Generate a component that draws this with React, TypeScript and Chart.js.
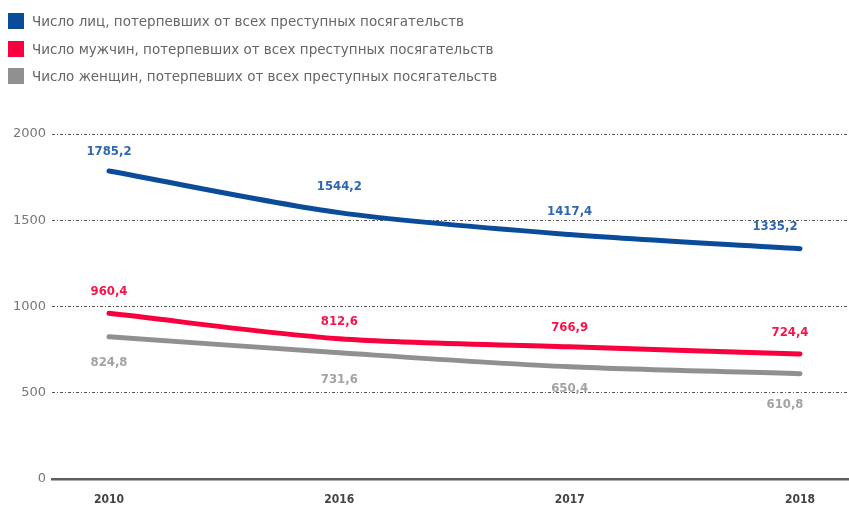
import React, { useEffect, useRef } from "react";
import { Chart, registerables } from "chart.js";

Chart.register(...registerables);

const years = ["2010", "2016", "2017", "2018"];
const totalVictims = [1785.2, 1544.2, 1417.4, 1335.2];
const maleVictims = [960.4, 812.6, 766.9, 724.4];
const femaleVictims = [824.8, 731.6, 650.4, 610.8];
const yTicks = [0, 500, 1000, 1500, 2000];
const seriesNames = [
  "Число лиц, потерпевших от всех преступных посягательств",
  "Число мужчин, потерпевших от всех преступных посягательств",
  "Число женщин, потерпевших от всех преступных посягательств",
];

const lineColors = ["#0b4c9a", "#f8003e", "#909092"];
const labelColors = ["#2f67b1", "#f5154c", "#a3a3a5"];
// label offsets (style only): vertical per point, horizontal shift of last label
const labelDy = [
  [-19, -26, -23, -22],
  [-22, -17, -19, -21],
  [26, 27, 22, 31],
];
const lastDx = [-25, -10, -15];

const fmt = (v: number) => v.toFixed(1).replace(".", ",");

const valueLabels = {
  id: "valueLabels",
  afterDatasetsDraw(chart: any) {
    const ctx = chart.ctx;
    ctx.save();
    ctx.font = "bold 13px 'DejaVu Sans Condensed', 'DejaVu Sans', sans-serif";
    ctx.textAlign = "center";
    ctx.textBaseline = "middle";
    chart.data.datasets.forEach((ds: any, di: number) => {
      const meta = chart.getDatasetMeta(di);
      ctx.fillStyle = labelColors[di];
      meta.data.forEach((pt: any, i: number) => {
        const v = ds.data[i].y;
        const dx = i === meta.data.length - 1 ? lastDx[di] : 0;
        ctx.fillText(fmt(v), pt.x + dx, pt.y + labelDy[di][i]);
      });
    });
    ctx.restore();
  },
};

export default function App() {
  const canvasRef = useRef<HTMLCanvasElement | null>(null);

  useEffect(() => {
    document.body.style.margin = "0";
    if (!canvasRef.current) return;
    const series = [totalVictims, maleVictims, femaleVictims];
    const chart = new Chart(canvasRef.current, {
      type: "line",
      data: {
        datasets: series.map((vals, di) => ({
          label: seriesNames[di],
          data: vals.map((v, i) => ({ x: i, y: v })),
          borderColor: lineColors[di],
          backgroundColor: lineColors[di],
          borderWidth: 5,
          borderCapStyle: "round" as const,
          pointRadius: 0,
          pointHoverRadius: 0,
          tension: 0.3,
          fill: false,
        })),
      },
      options: {
        responsive: false,
        animation: false,
        maintainAspectRatio: false,
        layout: { padding: { top: 134, left: 0, right: 0, bottom: 0 } },
        plugins: {
          legend: { display: false },
          tooltip: { enabled: false },
        },
        scales: {
          x: {
            type: "linear",
            min: -0.2475,
            max: 3.2128,
            afterBuildTicks: (scale: any) => {
              scale.ticks = years.map((_, i) => ({ value: i }));
            },
            afterFit: (scale: any) => {
              scale.height = 29;
            },
            grid: { display: false, drawTicks: false },
            border: { display: true, color: "#5f5f5f", width: 2.5 },
            ticks: {
              padding: 14,
              color: "#444444",
              font: { family: "'DejaVu Sans Condensed', 'DejaVu Sans', sans-serif", size: 12, weight: "bold" },
              callback: (v: any) => years[v] ?? "",
              autoSkip: false,
              maxRotation: 0,
            },
          },
          y: {
            min: 0,
            max: 2000,
            afterBuildTicks: (scale: any) => {
              scale.ticks = yTicks.map((v) => ({ value: v }));
            },
            afterFit: (scale: any) => {
              scale.width = 52;
            },
            grid: {
              drawTicks: false,
              color: (c: any) => (c.tick && c.tick.value === 0 ? "rgba(0,0,0,0)" : "#555555"),
              lineWidth: 1,
            },
            border: { display: false, dash: [3, 2, 1, 2] },
            ticks: {
              padding: 6,
              color: "#777777",
              font: { family: "'DejaVu Sans', sans-serif", size: 13 },
              callback: (v: any) => String(v),
            },
          },
        },
      },
      plugins: [valueLabels],
    });
    return () => chart.destroy();
  }, []);

  return (
    <div style={{ position: "relative", width: 849, height: 508 }}>
      <canvas ref={canvasRef} width={849} height={508} style={{ display: "block" }} />
      <div style={{ position: "absolute", left: 8, top: 13, fontFamily: "'DejaVu Sans', sans-serif", fontSize: 13.5, color: "#666666" }}>
        {seriesNames.map((name, i) => (
          <div key={i} style={{ display: "flex", alignItems: "center", height: 16, marginBottom: 11.5, whiteSpace: "nowrap" }}>
            <span style={{ display: "inline-block", width: 16, height: 16, background: lineColors[i], marginRight: 8 }} />
            <span>{name}</span>
          </div>
        ))}
      </div>
    </div>
  );
}
